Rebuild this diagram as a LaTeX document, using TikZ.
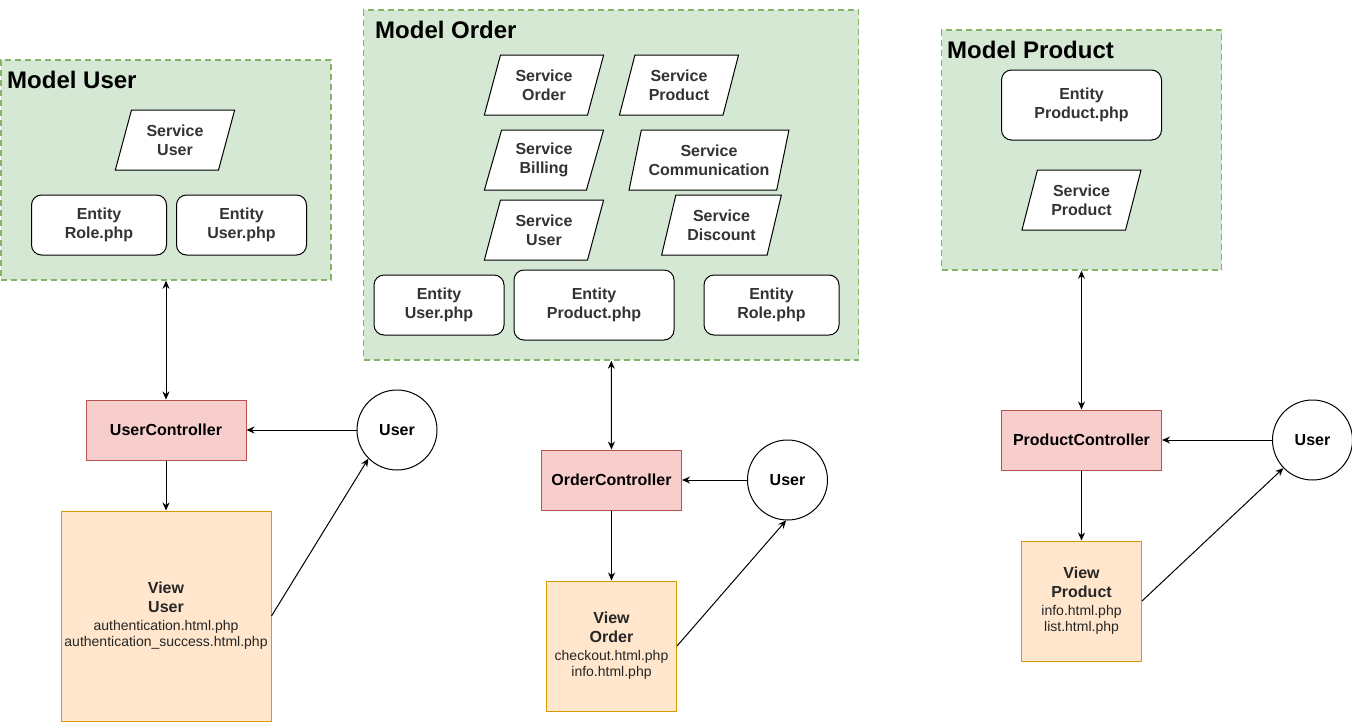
\documentclass[tikz,border=0pt]{standalone}
\usepackage{fontspec}
\setmainfont{Liberation Sans}
\usetikzlibrary{positioning,shapes.geometric,arrows.meta}

\definecolor{mfill}{HTML}{D5E8D4}
\definecolor{mline}{HTML}{82B366}
\definecolor{cfill}{HTML}{F8CECC}
\definecolor{cline}{HTML}{B85450}
\definecolor{vfill}{HTML}{FFE6CC}
\definecolor{vline}{HTML}{D79B00}

% file names inside the view boxes
\newcommand{\fname}[1]{{\mdseries\fontsize{14}{16}\selectfont #1}}

\begin{document}
\begin{tikzpicture}[%
    x=1pt, y=-1pt,              % pixel units, y runs downwards
    >={Stealth[length=8pt,width=7pt]},
    node distance=50pt
    ]

\tikzset{
    base/.style={draw, align=center, line width=1pt, font={\fontsize{16}{19}\selectfont\bfseries}},
    model/.style={rectangle, draw=mline, fill=mfill, line width=1.5pt, dash pattern=on 6pt off 4pt},
    title/.style={anchor=west, inner sep=0pt, font={\fontsize{24}{28}\selectfont\bfseries}},
    entity/.style={base, rectangle, rounded corners=10pt, fill=white, text=black!80, minimum width=130pt, minimum height=60pt},
    service/.style={base, trapezium, trapezium left angle=72, trapezium right angle=108, trapezium stretches=true,
        fill=white, text=black!80, inner sep=2pt, minimum width=120pt, minimum height=60pt},
    ctrl/.style={base, rectangle, draw=cline, fill=cfill, minimum width=160pt, minimum height=60pt},
    actor/.style={base, circle, fill=white, minimum size=80pt, inner sep=0pt},
    view/.style={base, rectangle, draw=vline, fill=vfill, text=black!85},
    % Arrows
    fforw/.style={->, line width=1pt},
    fboth/.style={<->, line width=1pt}
}

\useasboundingbox (0,0) rectangle (1352,721);

%% Model User
\node [model, minimum width=330pt, minimum height=220pt] (mUser) at (166,170) {};
\node [title] (tUser) at (7,80) {Model User};
\node [service] (sUserU) at (175,140) {Service\\User};
\node [entity, minimum width=135pt] (eRoleU) at (99,225) {Entity\\Role.php};
\node [entity] (eUserU) at (241.5,225) {Entity\\User.php};

%% Model Order
\node [model, minimum width=495pt, minimum height=350pt] (mOrder) at (611,185) {};
\node [title] (tOrder) at (375,30) {Model Order};
\node [service] (sOrder) at (544,85) {Service\\Order};
\node [service] (sProductO) at (679,85) {Service\\Product};
\node [service] (sBilling) at (544,160) {Service\\Billing};
\node [service, minimum width=160pt] (sComm) at (709,160) {Service\\Communication};
\node [service] (sUserO) at (544,230) {Service\\User};
\node [service] (sDiscount) at (721.5,225) {Service\\Discount};
\node [entity] (eUserO) at (439,305) {Entity\\User.php};
\node [entity, minimum width=160pt, minimum height=70pt] (eProductO) at (594,305) {Entity\\Product.php};
\node [entity, minimum width=135pt] (eRoleO) at (771.5,305) {Entity\\Role.php};

%% Model Product
\node [model, minimum width=280pt, minimum height=240pt] (mProduct) at (1081.5,150) {};
\node [title] (tProduct) at (947,50) {Model Product};
\node [entity, minimum width=160pt, minimum height=70pt] (eProductP) at (1081.5,105) {Entity\\Product.php};
\node [service] (sProductP) at (1081.5,200) {Service\\Product};

%% User side
\node [ctrl] (ctrlUser) at (166,430) {UserController};
\node [actor, right=110pt of ctrlUser] (actUser) {User};
\node [view, below=50pt of ctrlUser, minimum width=210pt, minimum height=210pt] (viewUser)
    {View\\User\\[-1pt]\fname{authentication.html.php}\\[-3pt]\fname{authentication\_success.html.php}};
    \draw [fboth] (mUser) -- (ctrlUser);
    \draw [fforw] (actUser) -- (ctrlUser);
    \draw [fforw] (ctrlUser) -- (viewUser);
    \draw [fforw] (viewUser.east) -- (actUser.225);

%% Order side
\node [ctrl, minimum width=140pt] (ctrlOrder) at (611.5,480) {OrderController};
\node [actor, right=65pt of ctrlOrder] (actOrder) {User};
\node [view, below=70pt of ctrlOrder, minimum width=130pt, minimum height=130pt] (viewOrder)
    {View\\Order\\[-1pt]\fname{checkout.html.php}\\[-3pt]\fname{info.html.php}};
    \draw [fboth] (mOrder) -- (ctrlOrder);
    \draw [fforw] (actOrder) -- (ctrlOrder);
    \draw [fforw] (ctrlOrder) -- (viewOrder);
    \draw [fforw] (viewOrder.east) -- (actOrder.268);

%% Product side
\node [ctrl] (ctrlProduct) at (1081.5,440) {ProductController};
\node [actor, right=110pt of ctrlProduct] (actProduct) {User};
\node [view, below=70pt of ctrlProduct, minimum width=120pt, minimum height=120pt] (viewProduct)
    {View\\Product\\[-1pt]\fname{info.html.php}\\[-3pt]\fname{list.html.php}};
    \draw [fboth] (mProduct) -- (ctrlProduct);
    \draw [fforw] (actProduct) -- (ctrlProduct);
    \draw [fforw] (ctrlProduct) -- (viewProduct);
    \draw [fforw] (viewProduct.east) -- (actProduct.224);
\end{tikzpicture}
\end{document}
